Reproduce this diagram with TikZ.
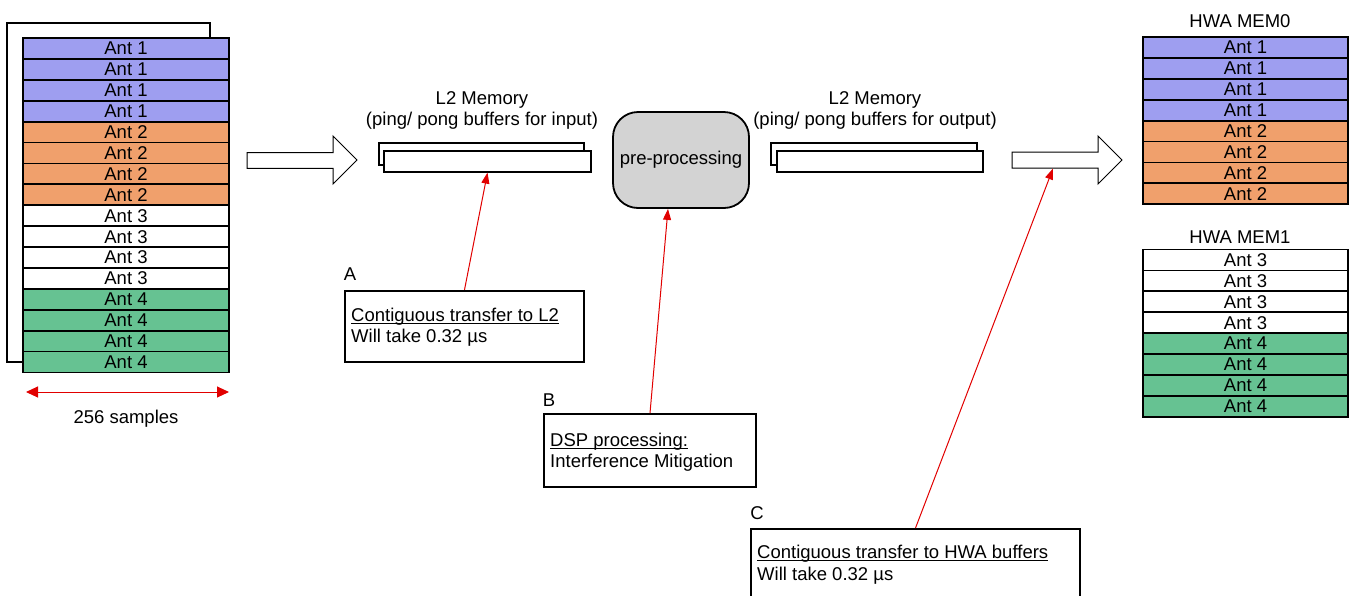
\documentclass[tikz,border=0pt]{standalone}
\usepackage{fontspec}
\setmainfont{Liberation Sans}
\usetikzlibrary{arrows.meta}
\definecolor{antA}{RGB}{158,158,240}
\definecolor{antB}{RGB}{240,160,108}
\definecolor{antC}{RGB}{255,255,255}
\definecolor{antD}{RGB}{102,194,146}
\definecolor{procgray}{RGB}{211,211,211}
\definecolor{linkred}{RGB}{225,0,0}
% underline that sits just below the baseline, crossing descenders
\newcommand{\ulword}[1]{\setbox0\hbox{#1}\rlap{\rule[-2.6pt]{\wd0}{0.9pt}}\box0}
\begin{document}
\begin{tikzpicture}[x=1pt,y=-1pt,
  font=\fontsize{18.5}{21.5}\selectfont,
  row/.style={draw=black,line width=1.8pt,minimum height=20.9pt,inner sep=0pt,text depth=0pt},
  leftrow/.style={row,minimum width=206pt},
  hwarow/.style={row,minimum width=205pt},
  buffer/.style={draw=black,line width=1.8pt,fill=white,inner sep=0pt,minimum height=21pt},
  infobox/.style={draw=black,line width=1.8pt,fill=white,inner sep=0pt},
  plain/.style={inner sep=0pt,align=center},
  blockarrow/.style={draw=black,line width=1pt,fill=white},
  link/.style={draw=linkred,line width=1pt,-{Triangle[length=11pt,width=8pt]}}]

\useasboundingbox (0,0) rectangle (1349,595);

% ---- frame of the capture buffer behind the antenna rows
\draw[line width=1.8pt] (210,38) -- (210,23) -- (7,23) -- (7,362) -- (23,362);

% ---- antenna rows of the capture buffer
\foreach \i/\c/\t in {0/antA/1,1/antA/1,2/antA/1,3/antA/1,
                      4/antB/2,5/antB/2,6/antB/2,7/antB/2,
                      8/antC/3,9/antC/3,10/antC/3,11/antC/3,
                      12/antD/4,13/antD/4,14/antD/4,15/antD/4}
  \node[leftrow,fill=\c] (L\i) at (126,{38+20.9*(\i+0.5)}) {Ant \t};

% ---- sample span
\coordinate (sl) at (26,392);
\coordinate (sr) at (229,392);
\draw[draw=linkred,line width=1pt,{Triangle[length=12pt,width=11pt]}-{Triangle[length=12pt,width=11pt]}] (sl) -- (sr);
\node[plain] (samples) at (126,419) {256 samples};

% ---- transfer arrows
\draw[blockarrow] (247,152.7) -- (333,152.7) -- (333,136) -- (357,160) -- (333,184) -- (333,168.3) -- (247,168.3) -- cycle;
\draw[blockarrow] (1012,152) -- (1098,152) -- (1098,136) -- (1122,160) -- (1098,184) -- (1098,168) -- (1012,168) -- cycle;

% ---- L2 input buffers
\node[plain] (l2inlabel) at (482,110.5) {L2 Memory\\(ping/ pong buffers for input)};
\draw[line width=1.8pt,fill=white] (379,143) rectangle (584,165);
\node[buffer,minimum width=207pt] (bufin) at (487.5,161.2) {};

% ---- pre-processing block
\node[draw=black,line width=1.8pt,fill=procgray,rounded corners=25pt,
      minimum width=136pt,minimum height=96pt,inner sep=0pt] (pre) at (681,160) {pre-processing};

% ---- L2 output buffers
\node[plain] (l2outlabel) at (875,110.5) {L2 Memory\\(ping/ pong buffers for output)};
\draw[line width=1.8pt,fill=white] (771,143) rectangle (977,165);
\node[buffer,minimum width=206pt] (bufout) at (880,161.3) {};

% ---- HWA memories
\node[plain] (mem0label) at (1240,21) {HWA MEM0};
\foreach \i/\c/\t in {0/antA/1,1/antA/1,2/antA/1,3/antA/1,
                      4/antB/2,5/antB/2,6/antB/2,7/antB/2}
  \node[hwarow,fill=\c] (M\i) at (1245.5,{37+20.9*(\i+0.5)}) {Ant \t};
\node[plain] (mem1label) at (1240,237) {HWA MEM1};
\foreach \i/\c/\t in {0/antC/3,1/antC/3,2/antC/3,3/antC/3,
                      4/antD/4,5/antD/4,6/antD/4,7/antD/4}
  \node[hwarow,fill=\c] (N\i) at (1245.5,{249.5+20.9*(\i+0.5)}) {Ant \t};

% ---- annotation A
\node[plain] (tagA) at (350,274) {A};
\node[infobox,minimum width=239pt,minimum height=71pt] (boxA) at (464.5,326.2) {};
\node[inner sep=0pt,align=left,anchor=west] (txtA) at (351,327)
  {\ulword{Contiguous transfer to L2}\\Will take 0.32 µs};
\draw[link] (boxA.north) -- (bufin.south);

% ---- annotation B
\node[plain] (tagB) at (549,400) {B};
\node[infobox,minimum width=212pt,minimum height=72.7pt] (boxB) at (650,450.3) {};
\node[inner sep=0pt,align=left,anchor=west] (txtB) at (550,452)
  {\ulword{DSP processing:}\\Interference Mitigation};
\draw[link] (boxB.north) -- ([xshift=-13pt]pre.south);

% ---- annotation C
\node[plain] (tagC) at (757,513) {C};
\node[infobox,minimum width=329pt,minimum height=72pt,anchor=north] (boxC) at (915.5,528) {};
\node[inner sep=0pt,align=left,anchor=west] (txtC) at (757,564.5)
  {\ulword{Contiguous transfer to HWA buffers}\\Will take 0.32 µs};
\coordinate (hwain) at (1053,168.5);
\draw[link] (boxC.north) -- (hwain);

\end{tikzpicture}
\end{document}
